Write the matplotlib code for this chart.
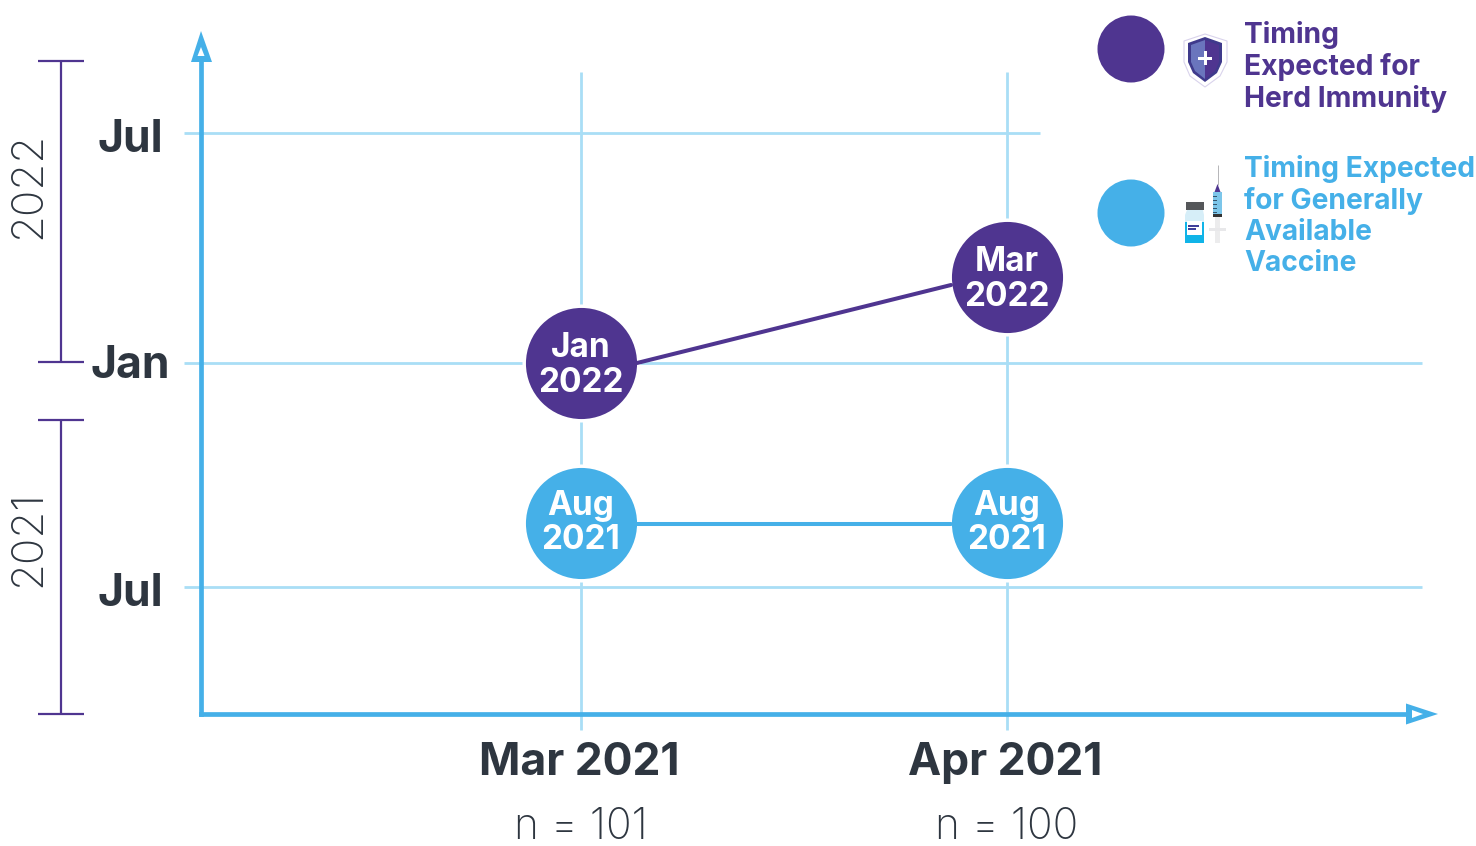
import numpy as np
import matplotlib
matplotlib.use("Agg")
import matplotlib.pyplot as plt
from matplotlib.lines import Line2D
from matplotlib.patches import Polygon, Circle, Rectangle
from matplotlib.transforms import Affine2D, ScaledTranslation, offset_copy

plt.rcParams['font.family'] = ['Inter', 'DejaVu Sans']

# months counted from Jan 2021
survey_x = [0, 1]
survey_labels = ['Mar 2021', 'Apr 2021']
survey_n = ['n = 101', 'n = 100']
herd_months = [12, 14]
herd_labels = ['Jan\n2022', 'Mar\n2022']
vaccine_months = [7, 7]
vaccine_labels = ['Aug\n2021', 'Aug\n2021']
y_ticks = [6, 12, 18]
y_ticklabels = ['Jul', 'Jan', 'Jul']

PURPLE = '#4f3590'
BLUE = '#45b0e8'
GRID = '#a9def6'
DARK = '#2e3640'
W, H = 1476, 846

# the month axis of the original is schematic, not linear
knot_months = np.array([0, 6, 7, 12, 14, 18, 20])
knot_pos = np.array([0, 127, 191.5, 351, 437, 581, 653])


def forward(m):
    return np.interp(m, knot_months, knot_pos)


def inverse(p):
    return np.interp(p, knot_pos, knot_months)


fig = plt.figure(figsize=(W / 100, H / 100), dpi=100)
ax = fig.add_axes([201 / W, 1 - 714 / H, 1221 / W, 653 / H])
ax.set_yscale('function', functions=(forward, inverse))
ax.set_xlim(-380 / 426, 841 / 426)
ax.set_ylim(0, 20)
ax.patch.set_alpha(0)

for s in ['top', 'right']:
    ax.spines[s].set_visible(False)
for s in ['left', 'bottom']:
    ax.spines[s].set_color(BLUE)
    ax.spines[s].set_linewidth(3.4)
    ax.spines[s].set_zorder(4)

ax.set_xticks(survey_x, survey_labels, fontsize=32, fontweight='bold', color=DARK)
ax.set_yticks(y_ticks, y_ticklabels, fontsize=32, fontweight='bold', color=DARK)
ax.yaxis.set_minor_locator(plt.NullLocator())
ax.tick_params(axis='x', length=0, pad=20)
ax.tick_params(axis='y', length=0, pad=51)
for lab, txt in zip(ax.get_yticklabels(), y_ticklabels):
    lab.set_ha('center')
    drop = 2 if txt == 'Jul' else -1.5
    lab.set_transform(lab.get_transform() + ScaledTranslation(0, -drop / 100, fig.dpi_scale_trans))
for lab in ax.get_xticklabels():
    lab.set_transform(lab.get_transform() + ScaledTranslation(-2 / 100, 0, fig.dpi_scale_trans))

for x, n in zip(survey_x, survey_n):
    ax.axvline(x, ymin=-16 / 653, ymax=642 / 653, color=GRID, lw=2, clip_on=False, zorder=1,
               solid_capstyle='butt')
    ax.text(x, -113.5 / 653, n, transform=ax.get_xaxis_transform(), ha='center', va='center',
            fontsize=30.5, fontweight='light', color=DARK, clip_on=False)
for m in y_ticks:
    right = 839 / 1221 if m == 18 else 1
    ax.axhline(m, xmin=-17 / 1221, xmax=right, color=GRID, lw=2, clip_on=False, zorder=1,
               solid_capstyle='butt')


def connect(xs, ms, color, dy_left, dy_right):
    # the connectors run edge to edge, slightly off the circle centres
    start = offset_copy(ax.transData, fig=fig, x=56, y=dy_left, units='dots')
    end = offset_copy(ax.transData, fig=fig, x=-56, y=dy_right, units='dots')
    ax.annotate('', xy=(xs[1], ms[1]), xycoords=end, xytext=(xs[0], ms[0]), textcoords=start,
                arrowprops=dict(arrowstyle='-', color=color, lw=2.9, shrinkA=0, shrinkB=0), zorder=7)


connect(survey_x, herd_months, PURPLE, 0, -8)
connect(survey_x, vaccine_months, BLUE, -1.5, -1.5)

for months, labels, color, drop in [(herd_months, herd_labels, PURPLE, 2.5),
                                    (vaccine_months, vaccine_labels, BLUE, 0.5)]:
    ax.plot(survey_x, months, ls='none', marker='o', ms=82.5, mfc=color, mec='white', mew=2.5,
            clip_on=False, zorder=5)
    label_trans = offset_copy(ax.transData, fig=fig, x=0, y=-drop, units='dots')
    for x, m, lab in zip(survey_x, months, labels):
        ax.text(x, m, lab, transform=label_trans, ha='center', va='center', color='white',
                fontsize=24, fontweight='bold', linespacing=1.1, zorder=6)


# everything below is placed in reference pixels
px = Affine2D().scale(1, -1).translate(0, H)


def fline(xs, ys, color, lw):
    fig.add_artist(Line2D(xs, ys, transform=px, color=color, lw=lw, solid_capstyle='butt'))


def fpoly(pts, fc, ec='none', lw=0):
    fig.add_artist(Polygon(pts, closed=True, transform=px, fc=fc, ec=ec, lw=lw))


def frect(x, y, w, h, fc):
    fig.add_artist(Rectangle((x, y), w, h, transform=px, fc=fc, ec='none'))


# axis arrow heads
fpoly([(201, 31), (191, 62), (212, 62)], BLUE)
fpoly([(201, 47), (197.5, 56), (204.5, 56)], 'white')
fpoly([(1438, 714), (1406, 703.5), (1406, 724.5)], BLUE)
fpoly([(1423, 714), (1412, 710), (1412, 718)], 'white')

# year brackets
for top, bottom in [(61, 362), (420, 714)]:
    fline([60.5, 60.5], [top, bottom], PURPLE, 1.6)
    fline([38, 84], [top, top], PURPLE, 1.6)
    fline([38, 84], [bottom, bottom], PURPLE, 1.6)
for y, year in [(185, '2022'), (538, '2021')]:
    fig.text(29 / W, 1 - y / H, year, rotation=90, ha='center', va='center', fontsize=31.5,
             fontweight='light', color=DARK)

# legend
for y, color in [(49, PURPLE), (213, BLUE)]:
    fig.add_artist(Circle((1131, y), 33.5, transform=px, fc=color, ec='none'))
fig.text(1244 / W, 1 - 67 / H, 'Timing\nExpected for\nHerd Immunity', ha='left', va='center',
         color=PURPLE, fontsize=20.3, fontweight='bold', linespacing=1.2)
fig.text(1244 / W, 1 - 216 / H, 'Timing Expected\nfor Generally\nAvailable\nVaccine', ha='left',
         va='center', color=BLUE, fontsize=20.3, fontweight='bold', linespacing=1.2)

# shield icon
fpoly([(1205, 34), (1184, 41), (1184, 62), (1190, 76), (1205, 87), (1220, 76), (1227, 62), (1227, 41)],
      'white', '#d9d3ec', 0.8)
fpoly([(1205, 37), (1188, 43), (1188, 62), (1193, 73), (1205, 82), (1217, 73), (1222, 62), (1222, 43)],
      '#3f3a8c')
fpoly([(1205, 40), (1191, 45), (1191, 62), (1195, 71), (1205, 79)], '#6a75bd')
fpoly([(1205, 40), (1219, 45), (1219, 62), (1215, 71), (1205, 79)], PURPLE)
frect(1198, 56.5, 14, 3, 'white')
frect(1203.5, 51, 3, 14, 'white')

# vial icon
frect(1186, 202, 18, 8, '#55575a')
fpoly([(1187, 210), (1203, 210), (1204, 215), (1204, 243), (1185, 243), (1185, 215)], '#d6eef8')
frect(1185, 222, 19, 21, '#10b4e8')
frect(1187, 221, 15, 14, 'white')
frect(1188, 225, 11, 1.5, '#3f3f9a')
frect(1188, 228, 8, 1.5, '#3f3f9a')

# syringe icon
fline([1217.5, 1217.5], [165, 185], '#b5b5b8', 0.7)
fpoly([(1217.5, 184), (1214.5, 192), (1220.5, 192)], PURPLE)
frect(1213, 192, 9, 25, '#7cc6ea')
for tick in [196, 200, 204, 208, 212]:
    frect(1213, tick, 4, 1, '#33566e')
frect(1213, 214, 9, 3, '#333333')
frect(1215, 217, 5, 26, '#ececed')
frect(1209, 228, 17, 2.5, '#e8e8ea')

fig.savefig('out.png', dpi=100)
